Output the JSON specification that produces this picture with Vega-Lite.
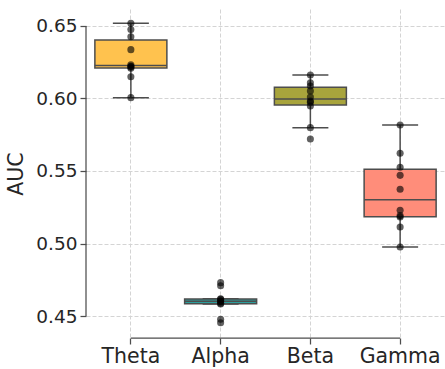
{
  "$schema": "https://vega.github.io/schema/vega-lite/v6.json",
  "width": 359,
  "height": 329,
  "autosize": "none",
  "padding": {"left": 86, "top": 9, "right": 0, "bottom": 31},
  "background": "white",
  "config": {"view": {"stroke": null}, "font": "DejaVu Sans"},
  "datasets": {
    "auc": [
      {"band": "Theta", "auc": 0.6519}, {"band": "Theta", "auc": 0.6475}, {"band": "Theta", "auc": 0.6426}, {"band": "Theta", "auc": 0.6337}, {"band": "Theta", "auc": 0.6232},
      {"band": "Theta", "auc": 0.6222}, {"band": "Theta", "auc": 0.6218}, {"band": "Theta", "auc": 0.6208}, {"band": "Theta", "auc": 0.6150}, {"band": "Theta", "auc": 0.6006},
      {"band": "Alpha", "auc": 0.4730}, {"band": "Alpha", "auc": 0.4709}, {"band": "Alpha", "auc": 0.4619}, {"band": "Alpha", "auc": 0.4615}, {"band": "Alpha", "auc": 0.4605},
      {"band": "Alpha", "auc": 0.4600}, {"band": "Alpha", "auc": 0.4588}, {"band": "Alpha", "auc": 0.4583}, {"band": "Alpha", "auc": 0.4477}, {"band": "Alpha", "auc": 0.4454},
      {"band": "Beta", "auc": 0.6162}, {"band": "Beta", "auc": 0.6109}, {"band": "Beta", "auc": 0.6086}, {"band": "Beta", "auc": 0.6052}, {"band": "Beta", "auc": 0.6010},
      {"band": "Beta", "auc": 0.5983}, {"band": "Beta", "auc": 0.5974}, {"band": "Beta", "auc": 0.5948}, {"band": "Beta", "auc": 0.5799}, {"band": "Beta", "auc": 0.5721},
      {"band": "Gamma", "auc": 0.5817}, {"band": "Gamma", "auc": 0.5622}, {"band": "Gamma", "auc": 0.5526}, {"band": "Gamma", "auc": 0.5470}, {"band": "Gamma", "auc": 0.5374},
      {"band": "Gamma", "auc": 0.5229}, {"band": "Gamma", "auc": 0.5192}, {"band": "Gamma", "auc": 0.5183}, {"band": "Gamma", "auc": 0.5114}, {"band": "Gamma", "auc": 0.4976}
    ],
    "yline": [{"band": "Theta", "auc": 0.45, "auc2": 0.65}],
    "xline": [{"band": "Theta", "band2": "Gamma", "auc": 0.43483}]
  },
  "layer": [
    {
      "data": {"name": "auc"},
      "mark": {
        "type": "boxplot",
        "extent": 1.5,
        "size": 72,
        "outliers": false,
        "box": {"stroke": "#4d4d4d", "strokeWidth": 1.5},
        "median": {"color": "#4d4d4d", "thickness": 1.5, "opacity": 1},
        "rule": {"color": "#4d4d4d", "strokeWidth": 1.5},
        "ticks": {"color": "#4d4d4d", "thickness": 1.5, "size": 36}
      },
      "encoding": {
        "x": {
          "field": "band", "type": "nominal",
          "scale": {"domain": ["Theta", "Alpha", "Beta", "Gamma"], "paddingInner": 0, "paddingOuter": 0},
          "axis": {
            "title": null, "labelAngle": 0, "domain": false,
            "grid": true, "gridColor": "#d4d4d4", "gridDash": [4, 2], "gridWidth": 1,
            "tickColor": "#4d4d4d", "tickSize": 6, "tickWidth": 1.25,
            "labelFontSize": 20.5, "labelColor": "#262626", "labelPadding": 2
          }
        },
        "y": {
          "field": "auc", "type": "quantitative",
          "scale": {"domain": [0.43483, 0.66172], "nice": false, "zero": false},
          "axis": {
            "title": "AUC", "titleFontSize": 20.5, "titleFontWeight": "normal", "titleColor": "#262626", "titlePadding": 9,
            "values": [0.45, 0.5, 0.55, 0.6, 0.65], "format": ".2f", "domain": false,
            "grid": true, "gridColor": "#d4d4d4", "gridDash": [4, 2], "gridWidth": 1,
            "tickColor": "#4d4d4d", "tickSize": 6, "tickWidth": 1.25,
            "labelFontSize": 18.5, "labelColor": "#262626", "labelPadding": 3
          }
        },
        "color": {
          "field": "band", "type": "nominal",
          "scale": {"domain": ["Theta", "Alpha", "Beta", "Gamma"], "range": ["#ffc24e", "#2b9e9c", "#a8a43c", "#ff8d7a"]},
          "legend": null
        }
      }
    },
    {
      "data": {"name": "auc"},
      "mark": {"type": "circle", "size": 50, "color": "#000000", "opacity": 0.62},
      "encoding": {
        "x": {"field": "band", "type": "nominal"},
        "y": {"field": "auc", "type": "quantitative"}
      }
    },
    {
      "data": {"name": "yline"},
      "mark": {"type": "rule", "color": "#4d4d4d", "strokeWidth": 1.25},
      "encoding": {
        "x": {"field": "band", "type": "nominal", "bandPosition": 0},
        "y": {"field": "auc", "type": "quantitative"},
        "y2": {"field": "auc2"}
      }
    },
    {
      "data": {"name": "xline"},
      "mark": {"type": "rule", "color": "#4d4d4d", "strokeWidth": 1.25},
      "encoding": {
        "x": {"field": "band", "type": "nominal"},
        "x2": {"field": "band2"},
        "y": {"field": "auc", "type": "quantitative"}
      }
    }
  ]
}
